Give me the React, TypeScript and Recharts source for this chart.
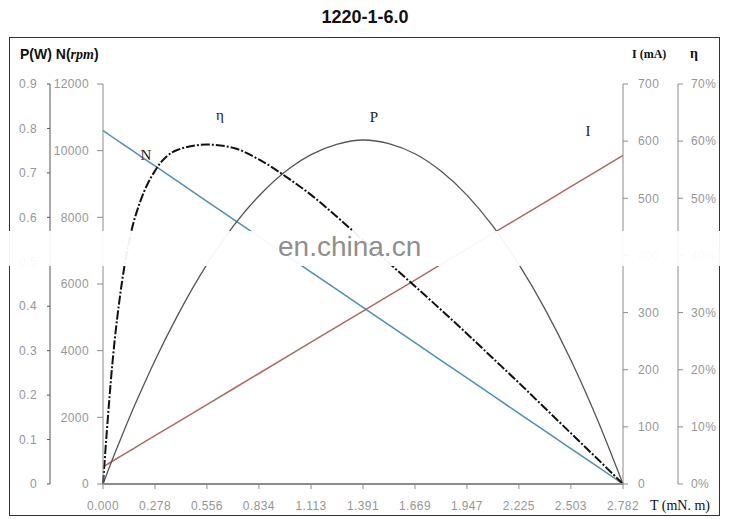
import {
  ComposedChart, Line, XAxis, YAxis, ReferenceDot,
} from 'recharts'

// torque (mN.m) sample points
const TORQUE = [0, 0.02, 0.05, 0.1, 0.15, 0.2, 0.278, 0.4, 0.556, 0.7, 0.834, 1.0, 1.113, 1.25, 1.391, 1.529, 1.669, 1.808, 1.947, 2.086, 2.225, 2.364, 2.503, 2.642, 2.782]
// speed (rpm)
const SPEED = [10600, 10524, 10410, 10219, 10029, 9838, 9541, 9076, 8481, 7933, 7422, 6789, 6359, 5837, 5300, 4774, 4241, 3711, 3181, 2652, 2122, 1593, 1063, 533, 0]
// current (mA)
const CURRENT = [30, 33.9, 39.8, 49.6, 59.4, 69.2, 84.5, 108.4, 138.9, 167.1, 193.4, 225.9, 248.1, 274.9, 302.5, 329.5, 356.9, 384.2, 411.4, 438.6, 465.9, 493, 520.3, 547.6, 575]
// output power (W)
const POWER = [0, 0.022, 0.055, 0.107, 0.158, 0.206, 0.278, 0.38, 0.494, 0.582, 0.648, 0.711, 0.741, 0.764, 0.774, 0.766, 0.743, 0.704, 0.65, 0.58, 0.494, 0.394, 0.279, 0.148, 0]
// efficiency (%)
const EFFICIENCY = [0, 9, 21, 35, 44, 49.5, 54.8, 58.5, 59.4, 58.8, 56.8, 53.3, 50.6, 46.8, 42.7, 38.7, 34.6, 30.5, 26.3, 22, 17.7, 13.3, 8.9, 4.5, 0]

const X_TICKS = [0, 0.278, 0.556, 0.834, 1.113, 1.391, 1.669, 1.947, 2.225, 2.503, 2.782]
const P_TICKS = [0, 0.1, 0.2, 0.3, 0.4, 0.5, 0.6, 0.7, 0.8, 0.9]
const N_TICKS = [0, 2000, 4000, 6000, 8000, 10000, 12000]
const I_TICKS = [0, 100, 200, 300, 400, 500, 600, 700]
const E_TICKS = [0, 10, 20, 30, 40, 50, 60, 70]

const data = TORQUE.map((t, i) => ({
  t, n: SPEED[i], i: CURRENT[i], p: POWER[i], e: EFFICIENCY[i],
}))

const tickStyle = { fill: '#969696', fontSize: 12, letterSpacing: 0.4, fontFamily: 'Liberation Sans, Arial, sans-serif' }
const axisGray = '#8c8c8c'
const serif = 'Liberation Serif, Times New Roman, serif'

function curveLabel(value: string) {
  return { value, position: 'center' as const, fill: '#222', fontSize: 15, fontFamily: serif }
}

export default function App() {
  return (
    <div style={{ position: 'relative', width: 730, height: 519, background: '#fff', fontFamily: 'Liberation Sans, Arial, sans-serif' }}>
      <style>{'body{margin:0}'}</style>
      <div style={{ position: 'absolute', left: 0, width: 730, top: 7, textAlign: 'center', fontWeight: 'bold', fontSize: 18, color: '#111' }}>
        1220-1-6.0
      </div>
      <div style={{ position: 'absolute', left: 9, top: 37, width: 709, height: 477, border: '1.5px solid #333' }} />
      <div style={{ position: 'absolute', left: 20, top: 46, fontWeight: 'bold', fontSize: 14, color: '#111' }}>
        P(W) N(<i style={{ fontFamily: serif }}>rpm</i>)
      </div>
      <div style={{ position: 'absolute', left: 632, top: 47, fontWeight: 'bold', fontSize: 12, color: '#111', fontFamily: serif }}>
        I (mA)
      </div>
      <div style={{ position: 'absolute', left: 690, top: 46, fontWeight: 'bold', fontSize: 14, color: '#111', fontFamily: serif }}>
        η
      </div>
      <div style={{ position: 'absolute', left: 650, top: 498, fontSize: 14, color: '#111', fontFamily: serif }}>
        T (mN. m)
      </div>
      <ComposedChart
        width={730}
        height={519}
        data={data}
        margin={{ top: 84, right: 10, bottom: 0, left: 10 }}
        style={{ position: 'absolute', left: 0, top: 0 }}
      >
        <XAxis
          dataKey="t"
          type="number"
          domain={[0, 2.782]}
          ticks={X_TICKS}
          tickFormatter={(v: number) => v.toFixed(3)}
          interval={0}
          height={35}
          tickSize={5}
          tickMargin={12}
          tick={tickStyle}
          axisLine={{ stroke: axisGray, strokeWidth: 2 }}
          tickLine={{ stroke: axisGray }}
        />
        <YAxis
          yAxisId="n"
          orientation="left"
          domain={[0, 12000]}
          ticks={N_TICKS}
          interval={0}
          width={53}
          tickSize={6}
          tickMargin={8}
          tick={tickStyle}
          axisLine={{ stroke: axisGray }}
          tickLine={{ stroke: axisGray }}
        />
        <YAxis
          yAxisId="p"
          orientation="left"
          domain={[0, 0.9]}
          ticks={P_TICKS}
          interval={0}
          tickFormatter={(v: number) => (v === 0 ? '0' : v.toFixed(1))}
          width={40}
          tickSize={3}
          tickMargin={10}
          tick={tickStyle}
          axisLine={{ stroke: '#555' }}
          tickLine={{ stroke: '#555' }}
        />
        <YAxis
          yAxisId="c"
          orientation="right"
          domain={[0, 700]}
          ticks={I_TICKS}
          interval={0}
          width={55}
          tickSize={5}
          tickMargin={10}
          tick={tickStyle}
          axisLine={{ stroke: axisGray }}
          tickLine={{ stroke: axisGray }}
        />
        <YAxis
          yAxisId="e"
          orientation="right"
          domain={[0, 70]}
          ticks={E_TICKS}
          interval={0}
          tickFormatter={(v: number) => `${v}%`}
          width={42}
          tickSize={5}
          tickMargin={8}
          tick={tickStyle}
          axisLine={{ stroke: axisGray }}
          tickLine={{ stroke: axisGray }}
        />
        <Line yAxisId="n" dataKey="n" type="linear" stroke="#4f8fb4" strokeWidth={1.5} dot={false} isAnimationActive={false} />
        <Line yAxisId="c" dataKey="i" type="linear" stroke="#b0695e" strokeWidth={1.5} dot={false} isAnimationActive={false} />
        <Line yAxisId="p" dataKey="p" type="monotone" stroke="#555" strokeWidth={1.3} dot={false} isAnimationActive={false} />
        <Line yAxisId="e" dataKey="e" type="monotone" stroke="#111" strokeWidth={2} strokeDasharray="9 2 2 2" dot={false} isAnimationActive={false} />
        <ReferenceDot yAxisId="e" x={0.626} y={64.6} r={0} fill="none" stroke="none" label={curveLabel('η')} />
        <ReferenceDot yAxisId="n" x={0.23} y={9870} r={0} fill="none" stroke="none" label={curveLabel('N')} />
        <ReferenceDot yAxisId="p" x={1.45} y={0.826} r={0} fill="none" stroke="none" label={curveLabel('P')} />
        <ReferenceDot yAxisId="c" x={2.595} y={619} r={0} fill="none" stroke="none" label={curveLabel('I')} />
      </ComposedChart>
      {/* watermark band */}
      <div style={{ position: 'absolute', left: 0, top: 231, width: 730, height: 35, background: 'rgba(255,255,255,0.94)' }} />
      <div style={{ position: 'absolute', left: 278, top: 231, fontSize: 28, color: '#8f8f8f' }}>
        en.china.cn
      </div>
    </div>
  )
}
